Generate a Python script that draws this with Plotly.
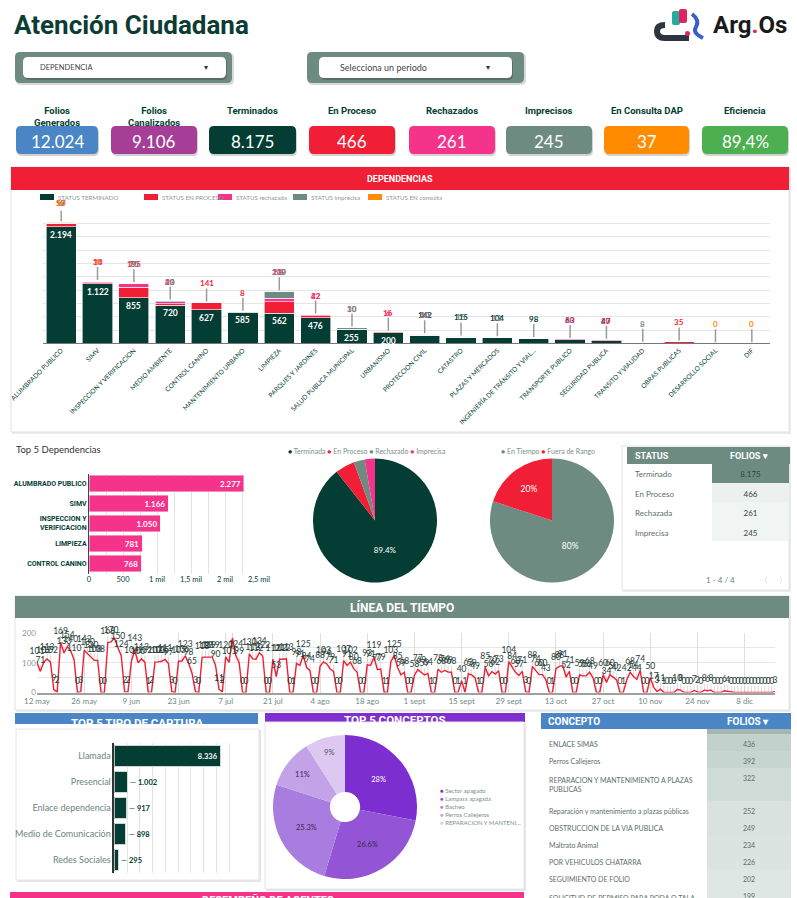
import datetime as dt
import plotly.graph_objects as go

# ---------------- DATA ----------------
kpi_labels = ["Folios<br>Generados", "Folios<br>Canalizados", "Terminados", "En Proceso",
              "Rechazados", "Imprecisos", "En Consulta DAP", "Eficiencia"]
kpi_values = ["12.024", "9.106", "8.175", "466", "261", "245", "37", "89,4%"]

dep_names = ["ALUMBRADO PUBLICO", "SIMV", "INSPECCION Y VERIFICACION", "MEDIO AMBIENTE",
             "CONTROL CANINO", "MANTENIMIENTO URBANO", "LIMPIEZA", "PARQUES Y JARDINES",
             "SALUD PUBLICA MUNICIPAL", "URBANISMO", "PROTECCION CIVIL", "CATASTRO",
             "PLAZAS Y MERCADOS", "INGENIERÍA DE TRÁNSITO Y VIAL...", "TRANSPORTE PUBLICO",
             "SEGURIDAD PUBLICA", "TRANSITO Y VIALIDAD", "OBRAS PUBLICAS", "DESARROLLO SOCIAL", "DIF"]
dep_terminado = [2194, 1122, 855, 720, 627, 585, 562, 476, 255, 200, 142, 115, 104, 98, 63, 47, 0, 0, 0, 0]
dep_proceso = [57, 14, 195, 20, 141, 8, 219, 42, 0, 16, 0, 0, 0, 0, 0, 0, 0, 35, 0, 0]
dep_rechazada = [10, 30, 70, 43, 0, 0, 68, 22, 10, 6, 10, 0, 0, 0, 20, 20, 0, 0, 0, 0]
dep_imprecisa = [6, 0, 10, 20, 0, 0, 130, 0, 30, 0, 20, 15, 12, 0, 0, 0, 8, 0, 0, 0]
dep_consulta = [10, 4, 0, 0, 0, 0, 0, 0, 0, 0, 0, 0, 0, 0, 0, 0, 0, 0, 0, 0]
dep_series_names = ["STATUS TERMINADO", "STATUS EN PROCESO", "STATUS rechazada",
                    "STATUS imprecisa", "STATUS EN consulta"]

top5_names = ["ALUMBRADO PUBLICO", "SIMV", "INSPECCION Y<br>VERIFICACION", "LIMPIEZA", "CONTROL CANINO"]
top5_values = [2277, 1166, 1050, 781, 768]
top5_tickvals = [0, 500, 1000, 1500, 2000, 2500]
top5_ticktext = ["0", "500", "1 mil", "1,5 mil", "2 mil", "2,5 mil"]

status_pie_labels = ["Terminada", "En Proceso", "Rechazado", "Imprecisa"]
status_values = [8175, 466, 261, 245]
status_table_names = ["Terminado", "En Proceso", "Rechazada", "Imprecisa"]
status_table_header = ["STATUS", "FOLIOS ▾"]

plazo_labels = ["En Tiempo", "Fuera de Rango"]
plazo_values = [80, 20]

tl_start = "2025-05-12"
tl_values = [
    101, 71, 102, 113, 102, 9, 2,
    169, 133, 154, 140, 110, 0, 3,
    142, 130, 120, 108, 108, 0, 0,
    168, 170, 184, 150, 124, 2, 2,
    104, 143, 100, 113, 102, 1, 2,
    102, 103, 105, 111, 97, 3, 0,
    105, 106, 123, 98, 65, 3, 0,
    118, 119, 119, 119, 90, 11, 2,
    120, 101, 184, 124, 99, 0, 0,
    130, 113, 112, 134, 122, 0, 0,
    112, 53, 112, 112, 113, 0, 1,
    98, 91, 125, 84, 74, 0, 0,
    88, 103, 96, 79, 71, 0, 0,
    107, 91, 102, 80, 68, 0, 0,
    93, 91, 119, 77, 79, 1, 1,
    103, 125, 85, 59, 68, 0, 0,
    58, 77, 69, 59, 64, 1, 0,
    78, 68, 74, 69, 68, 0, 1,
    40, 1, 63, 59, 49, 1, 0,
    85, 56, 70, 62, 73, 0, 0,
    104, 84, 68, 57, 71, 3, 0,
    88, 74, 60, 60, 43, 0, 1,
    80, 88, 91, 52, 71, 0, 0,
    59, 56, 56, 68, 49, 0, 0,
    60, 34, 60, 50, 42, 0, 1,
    42, 68, 54, 44, 74, 0, 0,
    50, 17, 3, 11, 1, 0, 0,
    0, 10, 8, 0, 0, 0, 7,
    2, 0, 8, 6, 8, 0, 0,
    0, 6, 4, 0, 0, 0, 0,
    0, 0, 0, 0, 0, 0, 0,
    0, 0, 3,
]
tl_tick_dates = ["2025-05-12", "2025-05-26", "2025-06-09", "2025-06-23", "2025-07-07", "2025-07-21",
                 "2025-08-04", "2025-08-18", "2025-09-01", "2025-09-15", "2025-09-29", "2025-10-13",
                 "2025-10-27", "2025-11-10", "2025-11-24", "2025-12-08"]
tl_tick_labels = ["12 may", "26 may", "9 jun", "23 jun", "7 jul", "21 jul", "4 ago", "18 ago",
                  "1 sept", "15 sept", "29 sept", "13 oct", "27 oct", "10 nov", "24 nov", "8 dic"]

captura_names = ["Llamada", "Presencial", "Enlace dependencia", "Medio de Comunicación", "Redes Sociales"]
captura_values = [8336, 1002, 917, 898, 295]

concepto_names = ["Sector apagado", "Lampara apagada", "Bacheo", "Perros Callejeros", "REPARACION Y MANTENI..."]
concepto_pct = [28, 26.6, 25.3, 11, 9]

tabla_header = ["CONCEPTO", "FOLIOS ▾"]
tabla_conceptos = ["ENLACE SIMAS", "Perros Callejeros", "REPARACION Y MANTENIMIENTO A PLAZAS<br>PUBLICAS",
                   "Reparación y mantenimiento a plazas públicas", "OBSTRUCCION DE LA VIA PUBLICA",
                   "Maltrato Animal", "POR VEHICULOS CHATARRA", "SEGUIMIENTO DE FOLIO",
                   "SOLICITUD DE PERMISO PARA PODA O TALA DE"]
tabla_folios = [436, 392, 322, 252, 249, 234, 226, 202, 199]

# ---------------- STYLE ----------------
W, H = 797, 898
DARK = "#033d33"
RED = "#f01f35"
PINK = "#f5338a"
GRAYG = "#6e8b82"
ORANGE = "#ff8c00"
BLUE = "#4a86c5"
MAGENTA = "#a63d96"
GREEN = "#4caf50"
PURPLE = "#7f2fd0"
BAND = "#a3b6b0"
HEAD = "Roboto, Arial, sans-serif"
BODY = "Lato, 'Open Sans', Arial, sans-serif"
kpi_colors = [BLUE, MAGENTA, DARK, RED, PINK, GRAYG, ORANGE, GREEN]
dep_colors = [DARK, RED, PINK, GRAYG, ORANGE]
status_colors = [DARK, RED, GRAYG, PINK]
plazo_colors = [GRAYG, RED]
concepto_colors = ["#7d2ed0", "#9355d6", "#a97ddf", "#c3a2e8", "#dcc8f0"]
concepto_text_colors = ["white", "#3a2a4a", "#3a2a4a", "#3a2a4a", "#555555"]


def X(px):
    return px / W


def Y(py):
    return 1 - py / H


def P(x, y):
    return f"{X(x):.5f},{Y(y):.5f}"


def fmt(v):
    return f"{v:,}".replace(",", ".")


def mix(c1, c2, t):
    a = [int(c1[i:i + 2], 16) for i in (1, 3, 5)]
    b = [int(c2[i:i + 2], 16) for i in (1, 3, 5)]
    return "#" + "".join(f"{round(a[k] + (b[k] - a[k]) * t):02x}" for k in range(3))


shapes = []
ann = []


def rrect(x0, y0, x1, y1, r, fill, line="rgba(0,0,0,0)", lw=0):
    path = (f"M {P(x0 + r, y0)} L {P(x1 - r, y0)} Q {P(x1, y0)} {P(x1, y0 + r)} "
            f"L {P(x1, y1 - r)} Q {P(x1, y1)} {P(x1 - r, y1)} L {P(x0 + r, y1)} "
            f"Q {P(x0, y1)} {P(x0, y1 - r)} L {P(x0, y0 + r)} Q {P(x0, y0)} {P(x0 + r, y0)} Z")
    shapes.append(dict(type="path", xref="paper", yref="paper", path=path, fillcolor=fill,
                       line=dict(color=line, width=lw), layer="below"))


def rect(x0, y0, x1, y1, fill, line="rgba(0,0,0,0)", lw=0, layer="below"):
    shapes.append(dict(type="rect", xref="paper", yref="paper", x0=X(x0), x1=X(x1), y0=Y(y1), y1=Y(y0),
                       fillcolor=fill, line=dict(color=line, width=lw), layer=layer))


def text(x, y, s, size, color, family=BODY, xanchor="center", yanchor="middle", **kw):
    ann.append(dict(xref="paper", yref="paper", x=X(x), y=Y(y), text=s, showarrow=False,
                    font=dict(size=size, color=color, family=family), xanchor=xanchor,
                    yanchor=yanchor, **kw))


def panel(x0, y0, x1, y1):
    rect(x0 + 1, y0 + 1, x1 + 2, y1 + 2, "rgba(0,0,0,0.08)")
    rect(x0, y0, x1, y1, "white", "#e2e2e2", 1)


# ---------------- HEADER ----------------
text(12, 25, "<b>Atención Ciudadana</b>", 26, "#0b3d35", HEAD, xanchor="left")
# logo
shapes.append(dict(type="path", xref="paper", yref="paper",
                   path=f"M {P(689, 38)} L {P(665, 38)} Q {P(657, 38)} {P(657, 31)} Q {P(657, 25)} {P(665, 25)}",
                   line=dict(color="#2d3640", width=6), layer="above"))
rrect(672, 11, 680, 25, 2, "#2aa8a0")
rrect(679, 9, 687, 23, 2, "#e0245e")
shapes.append(dict(type="path", xref="paper", yref="paper",
                   path=f"M {P(692, 14)} Q {P(700, 20)} {P(696, 27)} Q {P(692, 33)} {P(703, 38)}",
                   line=dict(color="#3a5fc8", width=4), layer="above"))
shapes.append(dict(type="circle", xref="paper", yref="paper", x0=X(685), x1=X(690), y0=Y(36), y1=Y(31),
                   fillcolor="#e0245e", line=dict(width=0)))
text(711, 25, "<b>Arg<span style='color:#e0245e'>.</span>Os</b>", 24, "#1a1a1a", HEAD, xanchor="left")

# dropdowns
for (x0, x1, ix0, ix1, label, lx, ax, lsize) in [
        (15, 232, 23, 226, "DEPENDENCIA", 38, 206, 7.5),
        (307, 524, 319, 512, "Selecciona un periodo", 338, 488, 9)]:
    rrect(x0 + 1, 53, x1 + 2, 85, 5, "rgba(0,0,0,0.15)")
    rrect(x0, 52, x1, 83, 5, GRAYG)
    rrect(ix0 + 1, 58, ix1 + 1, 80, 5, "rgba(0,0,0,0.2)")
    rrect(ix0, 57, ix1, 78, 5, "white")
    text(lx, 67.5, label, lsize, "#444444", BODY, xanchor="left")
    text(ax, 67, "▾", 8, "#333333", BODY)

# KPI cards
card_x = [(16, 98), (111, 197), (209, 296), (309, 395), (409, 495), (506, 592), (604, 689), (702, 788)]
for (x0, x1), lab, val, col in zip(card_x, kpi_labels, kpi_values, kpi_colors):
    rrect(x0 + 1, 128, x1 + 1, 156, 5, "rgba(0,0,0,0.18)")
    rrect(x0, 126, x1, 154, 5, col)
    text((x0 + x1) / 2, 103, f"<b>{lab}</b>", 9.5, DARK, HEAD, yanchor="top")
    text((x0 + x1) / 2, 141, val, 17, "white", BODY)

# ---------------- DEPENDENCIAS ----------------
panel(11, 167, 789, 432)
rect(11, 167, 789, 190, RED)
text(400, 179, "<b>DEPENDENCIAS</b>", 9, "white", HEAD)
for bx, nm, col in zip([40, 144, 218, 293, 368], dep_series_names, dep_colors):
    rect(bx, 194, bx + 14, 200, col)
    text(bx + 16, 197, nm, 6.2, "#8a9a96", BODY, xanchor="left")

dep_series = [dep_terminado, dep_proceso, dep_rechazada, dep_imprecisa, dep_consulta]
fig = go.Figure()
for nm, vals, col in zip(dep_series_names, dep_series, dep_colors):
    fig.add_trace(go.Bar(x=dep_names, y=vals, name=nm, marker=dict(color=col, line=dict(color="white", width=0.6)),
                         xaxis="x", yaxis="y", hoverinfo="skip"))

totals = [sum(s[i] for s in dep_series) for i in range(len(dep_names))]
for i, tot in enumerate(totals):
    shapes.append(dict(type="line", xref="x", yref="y", x0=i, x1=i, ysizemode="pixel", yanchor=tot,
                       y0=1, y1=14, line=dict(color="#9a9a9a", width=1.5), layer="above"))
    term = dep_terminado[i]
    if term >= 180:
        ann.append(dict(xref="x", yref="y", x=i, y=term, yshift=-8, text=f"<b>{fmt(term)}</b>",
                        showarrow=False, font=dict(size=8.5, color="white", family=BODY)))
    elif term > 0:
        ann.append(dict(xref="x", yref="y", x=i, y=tot, yshift=19, text=f"<b>{fmt(term)}</b>",
                        showarrow=False, font=dict(size=8, color=DARK, family=BODY)))
    if tot == 0:
        ann.append(dict(xref="x", yref="y", x=i, y=tot, yshift=19, text="<b>0</b>",
                        showarrow=False, font=dict(size=8, color=ORANGE, family=BODY)))
    for vals, col in zip(dep_series[1:], dep_colors[1:]):
        if vals[i] > 0:
            ann.append(dict(xref="x", yref="y", x=i, y=tot, yshift=19, text=f"<b>{vals[i]}</b>",
                            showarrow=False, font=dict(size=8, color=col, family=BODY)))

# ---------------- TOP 5 DEPENDENCIAS ----------------
text(14, 449, "Top 5 Dependencias", 9.5, "#333333", BODY, xanchor="left")
fig.add_trace(go.Bar(y=top5_names, x=top5_values, orientation="h", marker=dict(color=PINK),
                     text=[f"<b>{fmt(v)}</b>" for v in top5_values], textposition="inside",
                     insidetextanchor="end", textfont=dict(size=8, color="white", family=BODY),
                     xaxis="x2", yaxis="y2", hoverinfo="skip"))

# ---------------- PIES ----------------
pie_legend = " ".join(f"<span style='color:{c}'>●</span> {l}" for l, c in zip(status_pie_labels, status_colors))
text(286, 451, pie_legend, 7, "#7d8f8a", BODY, xanchor="left")
stot = sum(status_values)
fig.add_trace(go.Pie(values=status_values, labels=status_pie_labels, sort=False, direction="clockwise",
                     rotation=0, marker=dict(colors=status_colors, line=dict(width=0)),
                     text=[f"{v / stot * 100:.1f}%" if v / stot > 0.1 else "" for v in status_values],
                     textinfo="text", textposition="inside", insidetextorientation="horizontal",
                     textfont=dict(size=8, color="white", family=BODY), showlegend=False,
                     domain=dict(x=[X(313), X(437)], y=[Y(583), Y(458)]), hoverinfo="skip"))
plazo_legend = " ".join(f"<span style='color:{c}'>●</span> {l}" for l, c in zip(plazo_labels, plazo_colors))
text(499, 451, plazo_legend, 7, "#7d8f8a", BODY, xanchor="left")
ptot = sum(plazo_values)
fig.add_trace(go.Pie(values=plazo_values, labels=plazo_labels, sort=False, direction="clockwise",
                     rotation=0, marker=dict(colors=plazo_colors, line=dict(width=0)),
                     text=[f"{v / ptot * 100:.0f}%" for v in plazo_values],
                     textinfo="text", textposition="inside", insidetextorientation="horizontal",
                     textfont=dict(size=8.5, color="white", family=BODY), showlegend=False,
                     domain=dict(x=[X(490), X(614)], y=[Y(583), Y(458)]), hoverinfo="skip"))

# ---------------- STATUS TABLE ----------------
panel(622, 446, 789, 590)
smax, smin = max(status_values), min(status_values)
fig.add_trace(go.Table(
    domain=dict(x=[X(627), X(789)], y=[Y(560), Y(447)]),
    columnwidth=[85, 77],
    header=dict(values=[], fill_color=GRAYG, line=dict(color=GRAYG, width=1)),
    cells=dict(values=[status_table_names, [fmt(v) for v in status_values]],
               fill_color=[["white"] * 4, [mix("#f0f4f3", GRAYG, (v - smin) / (smax - smin)) for v in status_values]],
               font=dict(color=["#5c6f69", "#33443f"], size=8, family=BODY), align=["left", "center"],
               height=19.5, line=dict(color="rgba(0,0,0,0)", width=1))))
rect(627, 447, 789, 464, GRAYG, layer="above")
text(633, 456, f"<b>{status_table_header[0]}</b>", 9, "white", HEAD, xanchor="left")
text(749, 456, f"<b>{status_table_header[1]}</b>", 9, "white", HEAD)
text(720, 580, "1 - 4 / 4", 8, "#6f7f7a", BODY)
text(764, 580, "〈", 8, "#b0b8b6", BODY)
text(783, 580, "〉", 8, "#b0b8b6", BODY)

# ---------------- LINEA DEL TIEMPO ----------------
panel(15, 596, 789, 710)
rect(15, 596, 789, 618, GRAYG)
text(402, 607, "<b>LÍNEA DEL TIEMPO</b>", 12, "white", HEAD)
start = dt.date.fromisoformat(tl_start)
tl_dates = [(start + dt.timedelta(days=i)).isoformat() for i in range(len(tl_values))]
lead = 22
fig.add_trace(go.Scatter(x=tl_dates, y=tl_values, mode="markers", marker=dict(size=1, opacity=0),
                         error_y=dict(type="data", symmetric=False, array=[lead] * len(tl_values),
                                      arrayminus=[0] * len(tl_values), color="#cfcfcf", thickness=0.8, width=0),
                         xaxis="x3", yaxis="y3", hoverinfo="skip", cliponaxis=False))
fig.add_trace(go.Scatter(x=tl_dates, y=tl_values, mode="lines", line=dict(color=RED, width=1.4),
                         xaxis="x3", yaxis="y3", hoverinfo="skip"))
fig.add_trace(go.Scatter(x=tl_dates, y=[v + lead for v in tl_values], mode="text",
                         text=[str(v) for v in tl_values], textposition="top center",
                         textfont=dict(size=8.5, color="#1f3b35", family=BODY),
                         xaxis="x3", yaxis="y3", hoverinfo="skip", cliponaxis=False))

# ---------------- TOP 5 TIPO DE CAPTURA ----------------
rect(15, 713, 258, 724, BLUE)
text(137, 723, "<b>TOP 5 TIPO DE CAPTURA</b>", 11.5, "white", HEAD)
rect(17, 730, 261, 882, "rgba(0,0,0,0.1)")
rect(16, 729, 259, 880, "white", "#e6e6e6", 1)
fig.add_trace(go.Bar(y=captura_names, x=captura_values, orientation="h",
                     marker=dict(color=DARK, line=dict(color="#cfd8d5", width=1)),
                     text=[f"<b>{fmt(v)}</b>" if v > 3000 else f"— <b>{fmt(v)}</b>" for v in captura_values],
                     textposition=["inside" if v > 3000 else "outside" for v in captura_values],
                     insidetextanchor="end",
                     textfont=dict(size=7.5, color=["white" if v > 3000 else DARK for v in captura_values], family=BODY),
                     cliponaxis=False, xaxis="x4", yaxis="y4", hoverinfo="skip"))

# ---------------- TOP 5 CONCEPTOS ----------------
rect(265, 713, 525, 722, PURPLE)
text(395, 720, "<b>TOP 5 CONCEPTOS</b>", 11.5, "white", HEAD)
rect(266, 723, 526, 891, "rgba(0,0,0,0.1)")
rect(265, 722, 524, 889, "white", "#e6e6e6", 1)
fig.add_trace(go.Pie(values=concepto_pct, labels=concepto_names, sort=False, direction="clockwise",
                     rotation=0, hole=0.21, marker=dict(colors=concepto_colors, line=dict(width=0)),
                     text=[f"{v:g}%" for v in concepto_pct], textinfo="text", textposition="inside",
                     insidetextorientation="horizontal",
                     textfont=dict(size=7.5, color=concepto_text_colors, family=BODY), showlegend=False,
                     domain=dict(x=[X(273), X(417)], y=[Y(879), Y(735)]), hoverinfo="skip"))
for k, (nm, col) in enumerate(zip(concepto_names, concepto_colors)):
    text(438, 790 + 8 * k, f"<span style='color:{col}'>●</span> {nm}", 6, "#7d8f8a", BODY, xanchor="left")

# ---------------- CONCEPT TABLE ----------------
fmax, fmin = max(tabla_folios), min(tabla_folios)
fig.add_trace(go.Table(
    domain=dict(x=[X(541), X(791)], y=[0, Y(718)]),
    columnwidth=[166, 84],
    header=dict(values=[], fill_color=["white", BAND], line=dict(color="rgba(0,0,0,0)", width=1)),
    cells=dict(values=[tabla_conceptos, [str(v) for v in tabla_folios]],
               fill_color=[["white"] * len(tabla_folios),
                           [mix("#dfe7e4", "#c2d1cc", (v - fmin) / (fmax - fmin)) for v in tabla_folios]],
               font=dict(color="#5c6f69", size=7, family=BODY), align=["left", "center"],
               height=17, line=dict(color="rgba(0,0,0,0)", width=1))))
rect(541, 713, 791, 729, BLUE, layer="above")
text(546, 721, f"<b>{tabla_header[0]}</b>", 10, "white", HEAD, xanchor="left")
text(748, 721, f"<b>{tabla_header[1]}</b>", 10, "white", HEAD)

# ---------------- DESEMPEÑO ----------------
rect(10, 892, 524, 898, PINK)
text(268, 900, "<b>DESEMPEÑO DE AGENTES</b>", 11, "white", HEAD)

# ---------------- LAYOUT ----------------
fig.update_layout(
    width=W, height=H, autosize=False, margin=dict(l=0, r=0, t=0, b=0, pad=0, autoexpand=False),
    paper_bgcolor="white", plot_bgcolor="rgba(0,0,0,0)", showlegend=False,
    barmode="stack", bargap=0.17, font=dict(family=BODY),
    xaxis=dict(domain=[X(43), X(770)], anchor="y", type="category", tickangle=-45,
               tickfont=dict(size=6.5, color=DARK), showline=True, linecolor="#777777", linewidth=1,
               ticks="", showgrid=False, automargin=False),
    yaxis=dict(domain=[Y(343.3), Y(210.4)], anchor="x", range=[0, 2500], dtick=250, showticklabels=False,
               gridcolor="#e5e5e5", zeroline=False, automargin=False),
    xaxis2=dict(domain=[X(89), X(259)], anchor="y2", range=[0, 2500], tickmode="array",
                tickvals=top5_tickvals, ticktext=top5_ticktext, tickfont=dict(size=7.5, color=DARK),
                gridcolor="#e3e3e3", minor=dict(tickmode="linear", tick0=0, dtick=250, showgrid=True,
                                                gridcolor="#e3e3e3"), zeroline=False, ticks="", automargin=False),
    yaxis2=dict(domain=[Y(573.5), Y(473.5)], anchor="x2", autorange="reversed",
                tickfont=dict(size=7, color=DARK, family=HEAD, weight="bold"), showline=True,
                linecolor="#444444", linewidth=1, ticks="", automargin=False),
    xaxis3=dict(domain=[X(37), X(775)], anchor="y3", type="date", range=["2025-05-12", "2025-12-17"],
                tickmode="array", tickvals=tl_tick_dates, ticktext=tl_tick_labels,
                tickfont=dict(size=8, color=GRAYG), gridcolor="#dedede", showline=True,
                linecolor="#a0a0a0", linewidth=2, ticks="", zeroline=False, automargin=False),
    yaxis3=dict(domain=[Y(692.5), Y(633)], anchor="x3", range=[0, 200], tickmode="array",
                tickvals=[0, 100, 200], tickfont=dict(size=8, color="#8a9a96"), gridcolor="#e6e6e6",
                minor=dict(tickmode="linear", tick0=0, dtick=50, showgrid=True, gridcolor="#e6e6e6"),
                zeroline=False, ticks="", automargin=False),
    xaxis4=dict(domain=[X(114.3), X(241.9)], anchor="y4", range=[0, 10000], dtick=1000,
                showticklabels=False, gridcolor="#e3e3e3", zeroline=False, ticks="", automargin=False),
    yaxis4=dict(domain=[Y(873), Y(743)], anchor="x4", autorange="reversed",
                tickfont=dict(size=9, color="#6b857d"), showline=True, linecolor="#333333",
                linewidth=1.5, ticks="", automargin=False),
    shapes=shapes,
    annotations=ann,
)

fig.write_html("out.html")
